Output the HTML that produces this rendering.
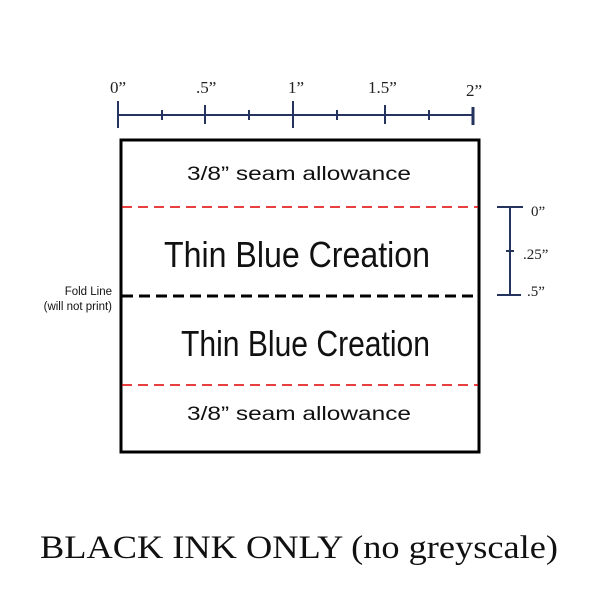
<!DOCTYPE html>
<html><head><style>body{margin:0;background:#fff}</style></head><body>
<svg width="600" height="600" xmlns="http://www.w3.org/2000/svg">
<rect width="600" height="600" fill="#fff"/>
<g stroke="#25335f" stroke-width="2">
<line x1="118" y1="115" x2="473" y2="115"/>
<line x1="118" y1="101" x2="118" y2="128"/>
<line x1="162" y1="110" x2="162" y2="120"/>
<line x1="205" y1="105" x2="205" y2="124"/>
<line x1="249" y1="110" x2="249" y2="120"/>
<line x1="293" y1="101" x2="293" y2="128"/>
<line x1="337" y1="110" x2="337" y2="120"/>
<line x1="385" y1="105" x2="385" y2="124"/>
<line x1="429" y1="110" x2="429" y2="120"/>
<line x1="473" y1="107" x2="473" y2="125" stroke-width="3"/>
<line x1="510" y1="207" x2="510" y2="295"/>
<line x1="497" y1="207" x2="523" y2="207"/>
<line x1="497" y1="295" x2="521" y2="295"/>
<line x1="506" y1="251" x2="514" y2="251"/>
</g>
<g font-family="Liberation Serif, serif" font-size="17" fill="#222">
<text x="110" y="93">0”</text>
<text x="196" y="93">.5”</text>
<text x="288" y="93">1”</text>
<text x="368" y="93">1.5”</text>
<text x="466" y="96">2”</text>
<text x="531" y="216" font-size="15">0”</text>
<text x="523" y="259" font-size="15">.25”</text>
<text x="527" y="296" font-size="15">.5”</text>
</g>
<rect x="121" y="140" width="358" height="312" fill="none" stroke="#000" stroke-width="3"/>
<line x1="122" y1="207" x2="478" y2="207" stroke="#e00000" stroke-width="1.5" stroke-dasharray="10,6"/>
<line x1="122" y1="385" x2="478" y2="385" stroke="#e00000" stroke-width="1.5" stroke-dasharray="10,6"/>
<line x1="122" y1="296" x2="478" y2="296" stroke="#000" stroke-width="3" stroke-dasharray="11,6"/>
<g font-family="Liberation Sans, sans-serif" fill="#111">
<text x="187" y="180" font-size="19" textLength="224" lengthAdjust="spacingAndGlyphs">3/8” seam allowance</text>
<text x="187" y="420" font-size="19" textLength="224" lengthAdjust="spacingAndGlyphs">3/8” seam allowance</text>
<text x="164" y="267" font-size="36" textLength="266" lengthAdjust="spacingAndGlyphs">Thin Blue Creation</text>
<text x="181" y="356" font-size="36" textLength="249" lengthAdjust="spacingAndGlyphs">Thin Blue Creation</text>
<text x="112" y="295" font-size="11.5" text-anchor="end">Fold Line</text>
<text x="112" y="310" font-size="11.5" text-anchor="end">(will not print)</text>
</g>
<text x="40" y="558" textLength="518" lengthAdjust="spacingAndGlyphs" font-family="Liberation Serif, serif" font-size="33" fill="#111">BLACK INK ONLY (no greyscale)</text>
</svg>
</body></html>
